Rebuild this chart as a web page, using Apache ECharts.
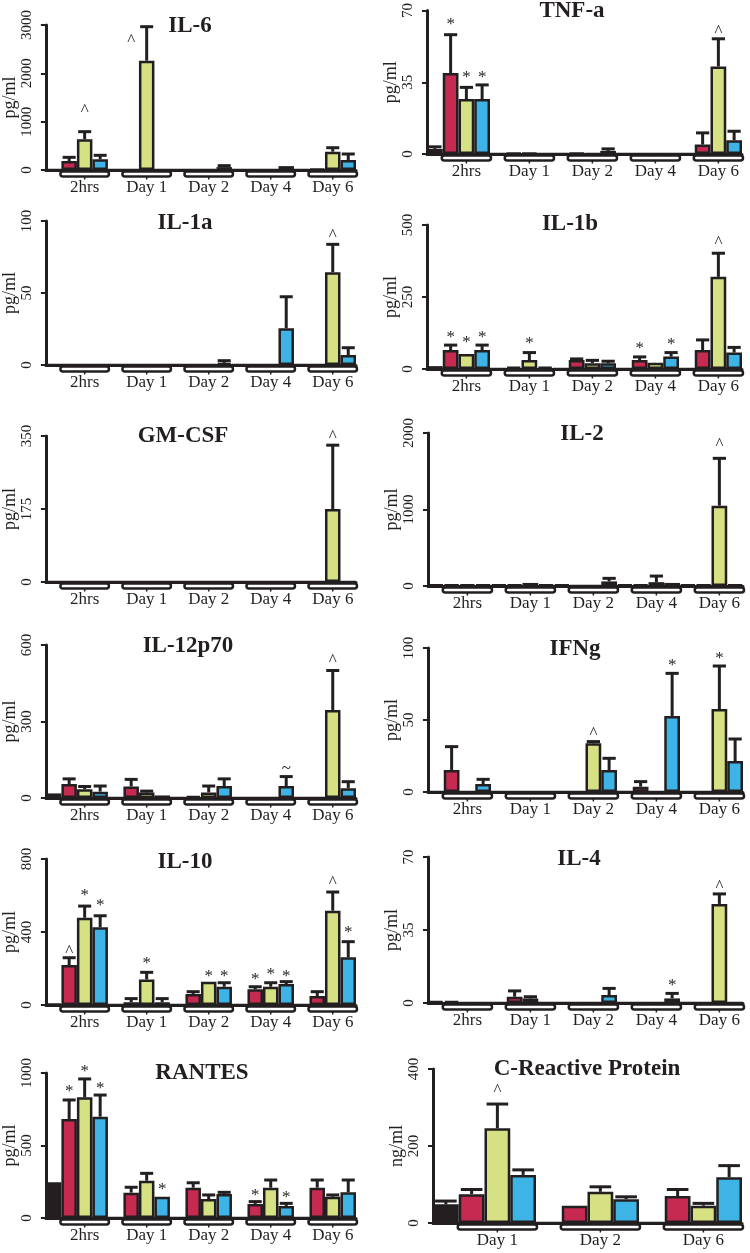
<!DOCTYPE html>
<html>
<head>
<meta charset="utf-8">
<script src="https://cdn.jsdelivr.net/npm/echarts@6/dist/echarts.min.js"></script>
<style>
  html, body { margin: 0; background: #fff; }
  #chart { width: 750px; height: 1253px; }
</style>
</head>
<body>
<div id="chart"></div>
<script>
var days = ['2hrs', 'Day 1', 'Day 2', 'Day 4', 'Day 6'];
var crpDays = ['Day 1', 'Day 2', 'Day 6'];

// rows: control (black), red, green, blue ; one value per time point
var il6Mean = [[0,0,0,0,0],[186,0,0,0,20],[635,2262,0,0,379],[221,0,60,80,207]];
var il6Err  = [[null,null,null,null,null],[262,null,null,null,null],[793,2965,null,null,461],[304,null,90,null,331]];
var il6Marks = [[0,2,'^',1283],[1,1,'^',2731]];

var tnfMean = [[2.5,0,0,0,0],[39.5,0.5,0.5,0,4.6],[26.8,0.5,0,0,42.7],[26.8,0,1.5,0,6.7]];
var tnfErr  = [[3.5,null,null,null,null],[58.2,null,null,null,10.3],[32.5,null,null,null,56.2],[33.7,null,2.5,null,11.1]];
var tnfMarks = [[0,1,'*',64.8],[0,2,'*',39],[0,3,'*',39],[4,2,'^',61.4]];

var il1aMean = [[0,0,0,0,0],[0,0,0,0,0],[0,0,0,0,64.4],[0,0,1.5,25.5,6.9]];
var il1aErr  = [[null,null,null,null,null],[null,null,null,null,null],[null,null,null,null,83.8],[null,null,3,47.4,12]];
var il1aMarks = [[4,2,'^',91.7]];

var il1bMean = [[10,0,0,0,0],[66,8,31,31,66],[52,31,20,22,320],[66,8,20,43,57]];
var il1bErr  = [[null,null,null,null,null],[83,null,35,42,101],[null,57,30,null,402],[83,null,27,57,75]];
var il1bMarks = [[0,1,'*',118],[0,2,'*',101],[0,3,'*',118],[1,2,'*',98],[3,1,'*',83],[3,3,'*',95],[4,2,'^',451]];

var gmMean = [[0,0,0,0,0],[0,0,0,0,0],[0,0,0,0,175],[0,0,0,0,0]];
var gmErr  = [[null,null,null,null,null],[null,null,null,null,null],[null,null,null,null,328],[null,null,null,null,null]];
var gmMarks = [[4,2,'^',357]];

var il2Mean = [[20,20,20,20,20],[20,20,0,20,20],[20,40,0,50,1050],[20,20,60,40,20]];
var il2Err  = [[null,null,null,null,null],[null,null,null,null,null],[null,null,null,130,1669],[null,null,100,null,null]];
var il2Marks = [[4,2,'^',1882]];

var il12Mean = [[18,0,0,0,0],[55,45,8,0,0],[34,22,22,0,345],[25,10,47,47,38]];
var il12Err  = [[null,null,null,null,null],[75,73,null,null,null],[45,27,47,null,500],[47,null,75,84,64]];
var il12Marks = [[3,3,'~',129],[4,2,'^',549]];

var ifnMean = [[0,0,0,0,0],[15.3,0,0,3.7,0],[0,0,33.8,0,57.6],[5.5,0,15.3,52.8,21.5]];
var ifnErr  = [[null,null,null,null,null],[31.5,null,null,7.2,null],[null,null,35,null,87.5],[8.8,null,23.4,82.4,36.8]];
var ifnMarks = [[2,2,'^',43],[3,3,'*',90],[4,2,'*',95]];

var il10Mean = [[5,0,0,0,0],[219,15,60,86,49],[478,140,128,100,517],[426,15,100,115,261]];
var il10Err  = [[null,null,null,null,null],[259,35,73,100,73],[542,179,null,122,619],[489,35,122,128,347]];
var il10Marks = [[0,1,'^',312],[0,2,'*',614],[0,3,'*',559],[1,2,'*',241],[2,2,'*',175],[2,3,'*',175],
                 [3,1,'*',155],[3,2,'*',182],[3,3,'*',174],[4,2,'^',685],[4,3,'*',411]];

var il4Mean = [[1,0,0,0,0],[1,3,0,0,0],[0,2.2,0,0,47.5],[0,0,3.8,2.2,0]];
var il4Err  = [[null,null,null,null,null],[null,5.8,null,null,null],[null,3,null,null,52.3],[null,null,7,4.6,null]];
var il4Marks = [[3,3,'*',10],[4,2,'^',57.5]];

var rantesMean = [[246,0,0,0,0],[683,175,209,97,209],[832,257,131,209,147],[699,147,166,83,177]];
var rantesErr  = [[null,null,null,null,null],[814,212,243,113,262],[959,308,159,262,159],[848,null,177,101,262]];
var rantesMarks = [[0,1,'*',890],[0,2,'*',1028],[0,3,'*',917],[1,3,'*',214],[3,1,'*',179],[3,3,'*',159]];

var crpMean = [[48.5,0,0],[75,45,70],[246,81,45],[125,62,119]];
var crpErr  = [[57,null,null],[87,null,87],[309,94,51],[138,68,149]];
var crpMarks = [[0,2,'^',351]];

var panels = [
  {title: 'IL-6', unit: 'pg/ml', cats: days, mean: il6Mean, err: il6Err, marks: il6Marks, max: 3000, step: 1000},
  {title: 'TNF-a', unit: 'pg/ml', cats: days, mean: tnfMean, err: tnfErr, marks: tnfMarks, max: 70, step: 35},
  {title: 'IL-1a', unit: 'pg/ml', cats: days, mean: il1aMean, err: il1aErr, marks: il1aMarks, max: 100, step: 50},
  {title: 'IL-1b', unit: 'pg/ml', cats: days, mean: il1bMean, err: il1bErr, marks: il1bMarks, max: 500, step: 250},
  {title: 'GM-CSF', unit: 'pg/ml', cats: days, mean: gmMean, err: gmErr, marks: gmMarks, max: 350, step: 175},
  {title: 'IL-2', unit: 'pg/ml', cats: days, mean: il2Mean, err: il2Err, marks: il2Marks, max: 2000, step: 1000},
  {title: 'IL-12p70', unit: 'pg/ml', cats: days, mean: il12Mean, err: il12Err, marks: il12Marks, max: 600, step: 300},
  {title: 'IFNg', unit: 'pg/ml', cats: days, mean: ifnMean, err: ifnErr, marks: ifnMarks, max: 100, step: 50},
  {title: 'IL-10', unit: 'pg/ml', cats: days, mean: il10Mean, err: il10Err, marks: il10Marks, max: 800, step: 400},
  {title: 'IL-4', unit: 'pg/ml', cats: days, mean: il4Mean, err: il4Err, marks: il4Marks, max: 70, step: 35},
  {title: 'RANTES', unit: 'pg/ml', cats: days, mean: rantesMean, err: rantesErr, marks: rantesMarks, max: 1000, step: 500},
  {title: 'C-Reactive Protein', unit: 'ng/ml', cats: crpDays, mean: crpMean, err: crpErr, marks: crpMarks, max: 400, step: 200}
];

// layout: grid left, top, width, height, title x, title y
var boxes = [
  [42, 25, 314, 145, 190, 26],
  [427, 7, 315, 147, 572, 11],
  [42, 221, 314, 144, 185, 223],
  [427, 225, 315, 144, 570, 224],
  [42, 436, 314, 146, 183, 436],
  [428, 433, 315, 153, 582, 434],
  [42, 645, 314, 153, 188, 646],
  [428, 648, 315, 144, 575, 649],
  [42, 859, 314, 146, 185, 862],
  [428, 857, 315, 146, 579, 859],
  [42, 1073, 314, 145, 202, 1073],
  [433, 1069, 309, 154, 587, 1069]
];

var ink = '#231f20';
var barColors = [ink, '#c62a50', '#d5e183', '#3db4e5'];
var serif = '"Liberation Serif", "DejaVu Serif", serif';

function slotX(api, cat, slot) {
  var band = api.size([1, 0])[0];
  return api.coord([cat, 0])[0] - band / 2 + (slot + 0.5) * band / 4;
}

function errItem(params, api) {
  var cat = api.value(0);
  var band = api.size([1, 0])[0];
  var x = slotX(api, cat, api.value(3));
  var yTop = api.coord([cat, api.value(1)])[1];
  var yBase = api.coord([cat, api.value(2)])[1];
  var half = band / 4 * 0.42;
  var st = {stroke: ink, lineWidth: 3};
  return {type: 'group', children: [
    {type: 'line', shape: {x1: x, y1: yBase, x2: x, y2: yTop}, style: st},
    {type: 'line', shape: {x1: x - half, y1: yTop, x2: x + half, y2: yTop}, style: st}
  ]};
}

function bracketItem(params, api) {
  var cat = api.value(0);
  var band = api.size([1, 0])[0];
  var c = api.coord([cat, 0]);
  var x0 = c[0] - band / 2 + band / 4 - 1;
  var x1 = c[0] + band / 2 + 1;
  var y = c[1];
  return {type: 'group', children: [
    {type: 'rect', shape: {x: x0, y: y + 1.5, width: x1 - x0, height: 5, r: 2.5},
     style: {fill: '#fff', stroke: ink, lineWidth: 2.5}},
    {type: 'line', shape: {x1: (x0 + x1) / 2, y1: y + 6.5, x2: (x0 + x1) / 2, y2: y + 9.5},
     style: {stroke: ink, lineWidth: 1.5}}
  ]};
}

var grids = [], xAxes = [], yAxes = [], series = [], texts = [];

panels.forEach(function (p, i) {
  var b = boxes[i];
  var band = b[2] / p.cats.length;
  grids.push({left: b[0], top: b[1], width: b[2], height: b[3], containLabel: false});
  xAxes.push({
    gridIndex: i, type: 'category', data: p.cats,
    axisLine: {lineStyle: {color: ink, width: 3}},
    axisTick: {show: false},
    axisLabel: {interval: 0, margin: 9, fontFamily: serif, fontSize: 17, color: ink,
                padding: [0, 0, 0, band / 4]}
  });
  yAxes.push({
    gridIndex: i, type: 'value', min: 0, max: p.max, interval: p.step,
    name: p.unit, nameLocation: 'middle', nameRotate: 90, nameGap: 20,
    nameTextStyle: {fontFamily: serif, fontSize: 18, color: ink},
    axisLine: {show: true, lineStyle: {color: ink, width: 3}},
    axisTick: {show: true, length: 5, lineStyle: {color: ink, width: 2}},
    axisLabel: {rotate: 90, margin: 11, fontFamily: serif, fontSize: 15, color: ink,
                formatter: function (v) { return String(v); }},
    splitLine: {show: false}
  });

  barColors.forEach(function (col, g) {
    series.push({
      type: 'bar', xAxisIndex: i, yAxisIndex: i, data: p.mean[g],
      barGap: '0%', barCategoryGap: '0%', silent: true,
      itemStyle: {color: col, borderColor: ink, borderWidth: 2.5}
    });
  });

  var errData = [];
  p.err.forEach(function (row, g) {
    row.forEach(function (v, c) {
      if (v != null) errData.push([c, v, p.mean[g][c], g]);
    });
  });
  series.push({type: 'custom', xAxisIndex: i, yAxisIndex: i, data: errData,
               renderItem: errItem, clip: false, silent: true, encode: {x: 0, y: 1}});

  series.push({type: 'custom', xAxisIndex: i, yAxisIndex: i, clip: false, silent: true,
               data: p.cats.map(function (d, c) { return [c, 0]; }),
               renderItem: bracketItem, encode: {x: 0, y: 1}});

  var marks = p.marks;
  series.push({type: 'custom', xAxisIndex: i, yAxisIndex: i, clip: false, silent: true,
               data: marks.map(function (m) { return [m[0], m[3], m[1]]; }),
               encode: {x: 0, y: 1},
               renderItem: function (params, api) {
                 var cat = api.value(0);
                 var x = slotX(api, cat, api.value(2));
                 var y = api.coord([cat, api.value(1)])[1];
                 return {type: 'text', x: x, y: y + 3,
                         style: {text: marks[params.dataIndex][2], fill: ink,
                                 font: '17px ' + serif, align: 'center', verticalAlign: 'middle'}};
               }});

  texts.push({type: 'text', x: b[4], y: b[5],
              style: {text: p.title, fill: ink, font: 'bold 23px ' + serif,
                      align: 'center', verticalAlign: 'middle'}});
});

var myChart = echarts.init(document.getElementById('chart'));
myChart.setOption({
  animation: false,
  backgroundColor: '#fff',
  grid: grids,
  xAxis: xAxes,
  yAxis: yAxes,
  series: series,
  graphic: texts
});
</script>
</body>
</html>
